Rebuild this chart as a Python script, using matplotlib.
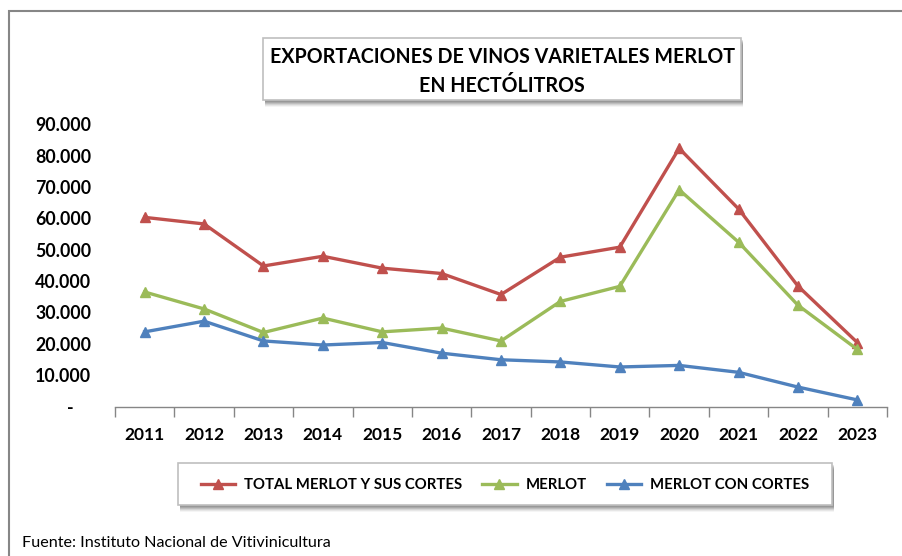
import matplotlib
matplotlib.use("Agg")
import matplotlib.pyplot as plt
from matplotlib.patches import Rectangle
from matplotlib.ticker import FuncFormatter, FixedLocator
from matplotlib.lines import Line2D

years = ["2011", "2012", "2013", "2014", "2015", "2016", "2017",
         "2018", "2019", "2020", "2021", "2022", "2023"]
total_merlot = [60300, 58200, 44800, 47900, 44100, 42400, 35700,
                47600, 50800, 82300, 63000, 38400, 20400]
merlot = [36500, 31100, 23600, 28200, 23800, 25000, 20900,
          33500, 38300, 69100, 52400, 32300, 18200]
merlot_cortes = [23800, 27200, 20900, 19600, 20400, 17000, 14900,
                 14200, 12600, 13100, 10900, 6200, 2100]
series_names = ["TOTAL MERLOT Y SUS CORTES", "MERLOT", "MERLOT CON CORTES"]
colors = ["#C0504D", "#9BBB59", "#4F81BD"]
title_lines = ["EXPORTACIONES DE VINOS VARIETALES MERLOT", "EN HECTÓLITROS"]
source = "Fuente: Instituto Nacional de Vitivinicultura"

FONT = ["Lato", "DejaVu Sans"]
plt.rcParams["font.family"] = FONT

W, H = 903, 556
fig = plt.figure(figsize=(W / 100, H / 100), dpi=100)
fig.patch.set_facecolor("white")


def fx(px):
    return px / W


def fy(py):
    return 1 - py / H


def box(x0, y0, x1, y1, edge="#BFBFBF"):
    # soft shadow
    for i, a in enumerate([0.10, 0.10, 0.10, 0.08, 0.06, 0.04]):
        off = 2 + i
        fig.add_artist(Rectangle((fx(x0 + 2), fy(y1 + off)), fx(x1 - x0), (y1 - y0) / H,
                                 transform=fig.transFigure, facecolor="black",
                                 edgecolor="none", alpha=a, zorder=1))
    fig.add_artist(Rectangle((fx(x0), fy(y1)), fx(x1 - x0), (y1 - y0) / H,
                             transform=fig.transFigure, facecolor="white",
                             edgecolor=edge, linewidth=1.2, zorder=2))


# outer chart frame
fig.add_artist(Rectangle((fx(9), fy(600)), fx(1000), (600 - 11) / H,
                         transform=fig.transFigure, facecolor="none",
                         edgecolor="#868686", linewidth=1.5, zorder=0))

ax = fig.add_axes([fx(115), fy(406.5), fx(887 - 115), (406.5 - 124.2) / H])
x = list(range(len(years)))
for vals, c in zip([total_merlot, merlot, merlot_cortes], colors):
    ax.plot(x, vals, color=c, linewidth=2.4, marker="^", markersize=7.5,
            markeredgecolor=c, markerfacecolor=c, zorder=3)

ax.set_xlim(-0.5, len(years) - 0.5)
ax.set_ylim(0, 90000)
ax.set_yticks(range(0, 90001, 10000))


def fmt(v, pos):
    if v == 0:
        return "-    "
    return f"{int(v):,}".replace(",", ".")


ax.yaxis.set_major_formatter(FuncFormatter(fmt))
ax.set_xticks(x)
ax.set_xticklabels(years)
ax.xaxis.set_minor_locator(FixedLocator([i - 0.5 for i in range(len(years) + 1)]))
ax.tick_params(axis="x", which="major", length=0, pad=15, labelsize=12.5)
ax.tick_params(axis="x", which="minor", length=7, width=1, color="#868686", direction="out")
ax.tick_params(axis="y", length=0, pad=17, labelsize=12.8)
for lab in ax.get_xticklabels() + ax.get_yticklabels():
    lab.set_fontweight("bold")
for s in ["top", "right", "left"]:
    ax.spines[s].set_visible(False)
ax.spines["bottom"].set_color("#868686")
ax.spines["bottom"].set_linewidth(1)
ax.patch.set_alpha(0)

# title box
box(263, 38, 741, 100)
fig.text(fx(502), fy(57), title_lines[0], ha="center", va="center",
         fontsize=14.1, fontweight="bold", zorder=5)
fig.text(fx(502), fy(86), title_lines[1], ha="center", va="center",
         fontsize=14.1, fontweight="bold", zorder=5)

# legend box
box(178, 463, 832, 505)
handles = [Line2D([], [], color=c, linewidth=2.4, marker="^", markersize=7.5)
           for c in colors]
leg = fig.legend(handles, series_names, loc="center", bbox_to_anchor=(fx(505), fy(485)),
                 ncol=3, frameon=False, handlelength=2.3, handletextpad=0.6,
                 columnspacing=1.35, prop={"weight": "bold", "size": 10.7})
leg.set_zorder(6)

fig.text(fx(22), fy(543), source, ha="left", va="center", fontsize=11.6)

fig.savefig("out.png", dpi=100, facecolor="white")
